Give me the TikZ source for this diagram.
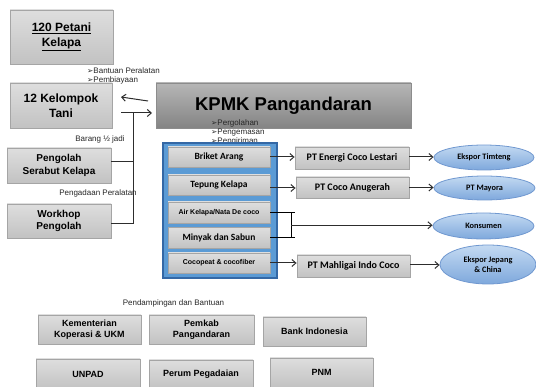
\documentclass[tikz,border=0pt]{standalone}
\usepackage{fontspec}
\setmainfont{Liberation Sans}
\newfontfamily\calib{Carlito}
\newfontfamily\dejavu{DejaVu Sans}
\usetikzlibrary{shapes.geometric,arrows.meta,calc}
\definecolor{boxtop}{RGB}{222,222,222}
\definecolor{boxbot}{RGB}{194,194,194}
\definecolor{boxline}{RGB}{165,165,165}
\definecolor{kptop}{RGB}{182,182,182}
\definecolor{kpbot}{RGB}{132,132,132}
\definecolor{contfill}{RGB}{91,155,213}
\definecolor{contline}{RGB}{52,104,165}
\definecolor{elltop}{RGB}{196,218,242}
\definecolor{ellbot}{RGB}{126,168,220}
\definecolor{ellline}{RGB}{112,152,208}
\definecolor{conn}{RGB}{45,45,45}
\newcommand{\bul}{{\dejavu\fontsize{7.5}{7.5}\selectfont ➢}}
\tikzset{
  graybox/.style={draw=boxline, line width=0.8pt, top color=boxtop, bottom color=boxbot,
    inner sep=0pt, align=center},
  bigtxt/.style={font=\fontsize{12}{14.5}\selectfont\bfseries},
  midtxt/.style={font=\fontsize{10}{12.5}\selectfont\bfseries},
  prodtxt/.style={font=\calib\fontsize{9.5}{11}\selectfont\bfseries},
  smallprod/.style={font=\fontsize{7}{8}\selectfont\bfseries},
  pttxt/.style={font=\calib\fontsize{10}{12}\selectfont\bfseries},
  bottxt/.style={font=\fontsize{9}{10.5}\selectfont\bfseries},
  lbl/.style={font=\fontsize{8}{9}\selectfont, text=black!85, inner sep=0pt, align=left},
  ellnode/.style={ellipse, draw=ellline, line width=0.8pt, top color=elltop, bottom color=ellbot,
    inner sep=0pt, align=center, font=\calib\fontsize{8.3}{9.3}\selectfont\bfseries},
  connline/.style={draw=conn, line width=1pt},
  arr/.style={connline, -{Straight Barb[length=4pt,width=7pt]}}
}
\begin{document}
\begin{tikzpicture}[x=1pt,y=-1pt]
\useasboundingbox (0,0) rectangle (536,387);

% left column
\node[graybox, bigtxt, minimum width=103pt, minimum height=54pt] (petani) at (61.5,37)
  {\underline{120 Petani}\\\underline{Kelapa}};
\node[graybox, bigtxt, minimum width=102pt, minimum height=45pt] (kelompok) at (61,105.5)
  {12 Kelompok\\Tani};
\node[graybox, midtxt, minimum width=104pt, minimum height=35pt] (pengolah) at (59,165.5)
  {Pengolah\\Serabut Kelapa};
\node[graybox, midtxt, minimum width=104pt, minimum height=34pt] (workhop) at (59,221)
  {Workhop\\Pengolah};

% KPMK
\node[graybox, top color=kptop, bottom color=kpbot, draw=black!45,
  minimum width=255pt, minimum height=45pt,
  font=\fontsize{18.5}{20}\selectfont\bfseries] (kpmk) at (283.5,105.5) {KPMK Pangandaran};

% labels
\node[lbl, anchor=west] (bantuan) at (87,75.5) {\bul Bantuan Peralatan\\\bul Pembiayaan};
\node[lbl, anchor=west] (proses) at (211,132) {\bul Pergolahan\\\bul Pengemasan\\\bul Pengiriman};
\node[lbl] (barang) at (100,139) {Barang ½ jadi};
\node[lbl] (pengadaan) at (98,193.5) {Pengadaan Peralatan};
\node[lbl] (pendamping) at (173.5,303) {Pendampingan dan Bantuan};

% arrows between Kelompok and KPMK
\coordinate (a1s) at (148,101);
\coordinate (a1e) at (121,97);
\coordinate (a2s) at (121,113);
\coordinate (a2e) at (152,113);
\coordinate (j) at (133,113);
\draw[arr] (a1s) -- (a1e);
\draw[arr] (a2s) -- (a2e);
\draw[connline] ($(pengolah.east)+(0,-3.5)$) -| (j);
\draw[connline] ($(workhop.east)+(0,3)$) -| (j);

% container
\node[draw=contline, line width=1.2pt, fill=contfill, minimum width=114pt, minimum height=135pt,
  inner sep=0pt] (cont) at (220,210.5) {};
\node[graybox, prodtxt, minimum width=102pt, minimum height=20pt] (briket) at (219,157) {Briket Arang};
\node[graybox, prodtxt, minimum width=102pt, minimum height=20pt] (tepung) at (219,185) {Tepung Kelapa};
\node[graybox, smallprod, minimum width=102pt, minimum height=21pt] (air) at (219,212.5) {Air Kelapa/Nata De coco};
\node[graybox, prodtxt, minimum width=102pt, minimum height=21pt] (minyak) at (219,238) {Minyak dan Sabun};
\node[graybox, smallprod, minimum width=102pt, minimum height=20pt] (cocopeat) at (219,263) {Cocopeat \& cocofiber};

% PT boxes
\node[graybox, pttxt, minimum width=114pt, minimum height=22pt] (pt1) at (352,158) {PT Energi Coco Lestari};
\node[graybox, pttxt, minimum width=113pt, minimum height=21pt] (pt2) at (352.5,187.5) {PT Coco Anugerah};
\node[graybox, pttxt, minimum width=113pt, minimum height=22pt] (pt3) at (353.5,266) {PT Mahligai Indo Coco};

% ellipses
\node[ellnode, minimum width=100pt, minimum height=25pt] (e1) at (484,157.5) {Ekspor Timteng};
\node[ellnode, minimum width=101pt, minimum height=24pt] (e2) at (484.5,188) {PT Mayora};
\node[ellnode, minimum width=101pt, minimum height=26pt] (e3) at (483.5,226) {Konsumen};
\node[ellnode, minimum width=96pt, minimum height=39pt] (e4) at (488,264.5) {Ekspor Jepang\\\& China};

% product arrows
\draw[arr] (briket.east) -- (briket.east -| pt1.west);
\draw[arr] ($(tepung.east)+(0,3)$) -- ($(tepung.east -| pt2.west)+(0,3)$);
\draw[arr] (cocopeat.east) -- (cocopeat.east -| pt3.west);
\draw[arr] ($(pt1.east)+(0,-1)$) -- ($(pt1.east -| e1.west)+(0,-1)$);
\draw[arr] (pt2.east) -- (pt2.east -| e2.west);
\draw[arr] ($(pt3.east)+(0,-1)$) -- ($(pt3.east -| e4.west)+(0,-1)$);

% bracket to Konsumen
\coordinate (bt) at ($(air.east)+(21,0)$);
\coordinate (bb) at ($(minyak.east)+(21,0)$);
\coordinate (bm) at ($(bt)!0.5!(bb)$);
\draw[connline, draw=black] (air.east) -- ++(25,0);
\draw[connline, draw=black] (minyak.east) -- ++(25,0);
\draw[connline, draw=black] (bt) -- (bb);
\draw[arr] (bm) -- (bm -| e3.west);

% bottom boxes
\node[graybox, bottxt, minimum width=103pt, minimum height=29pt] (kem) at (89.5,329.5) {Kementerian\\Koperasi \& UKM};
\node[graybox, bottxt, minimum width=105pt, minimum height=29pt] (pemkab) at (201.5,329.5) {Pemkab\\Pangandaran};
\node[graybox, bottxt, minimum width=103pt, minimum height=29pt] (bi) at (314.5,331.5) {Bank Indonesia};
\node[graybox, bottxt, minimum width=104pt, minimum height=30pt] (unpad) at (88,374) {UNPAD};
\node[graybox, bottxt, minimum width=104pt, minimum height=29pt] (perum) at (201,374.5) {Perum Pegadaian};
\node[graybox, bottxt, minimum width=103pt, minimum height=29pt] (pnm) at (321.5,372.5) {PNM};
\end{tikzpicture}
\end{document}
